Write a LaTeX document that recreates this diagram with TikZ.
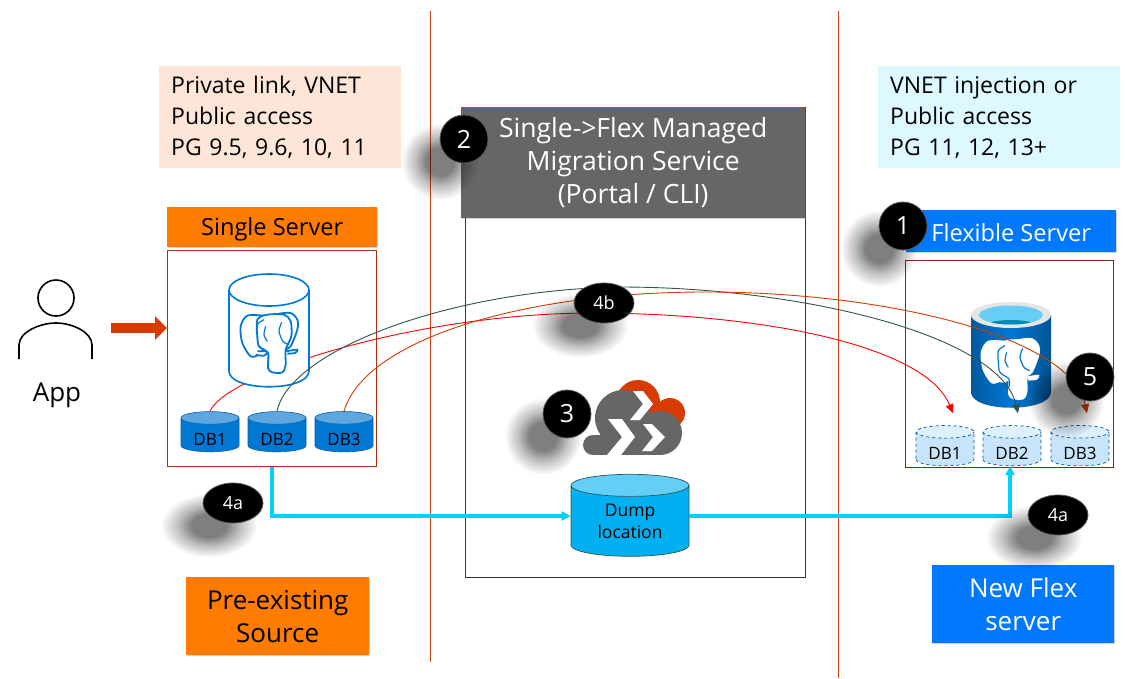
\documentclass[tikz,border=0pt]{standalone}
\usepackage{fontspec}
\setmainfont{Open Sans}
\usetikzlibrary{arrows.meta, shapes.geometric, shadows, fadings}

\definecolor{rulered}{HTML}{C8431A}
\definecolor{framered}{HTML}{A5330F}
\definecolor{pgorange}{HTML}{FF7C00}
\definecolor{flexblue}{HTML}{0078FF}
\definecolor{dbblue}{HTML}{0078D4}
\definecolor{dbtop}{HTML}{5FA6DF}
\definecolor{pglight}{HTML}{C6E5FB}
\definecolor{pglighttop}{HTML}{DDF0FD}
\definecolor{wirecyan}{HTML}{00D2F7}
\definecolor{wiredark}{HTML}{2F5450}
\definecolor{wireorange}{HTML}{D83B01}
\definecolor{dumpblue}{HTML}{00B0F0}
\definecolor{dumptop}{HTML}{63CFF7}
\definecolor{srcnotefill}{HTML}{FDE6D8}
\definecolor{flexnotefill}{HTML}{DDF8FF}

\pgfdeclareradialshading{softblobshade}{\pgfpointorigin}{color(0bp)=(white); color(9bp)=(white); color(16bp)=(gray); color(25bp)=(black); color(50bp)=(black)}
\tikzfading[name=softblob, shading=softblobshade]

\tikzset{
  pics/pgelephant/.style={code={
    \begin{scope}[x=0.3333pt, y=-0.3333pt]
    \draw[elephant line] plot[smooth] coordinates {(-15,-82) (-65,-82) (-85,-50) (-80,0) (-55,40) (-30,35) (-10,20)};
    \draw[elephant line] plot[smooth] coordinates {(30,-88) (65,-90) (85,-70) (85,-40) (65,10) (50,18)};
    \draw[elephant line] plot[smooth] coordinates {(50,25) (85,20) (78,30) (55,32)};
    \draw[elephant line] plot[smooth] coordinates {(-35,25) (-5,25) (-15,38) (-40,35)};
    \draw[elephant line] plot[smooth cycle] coordinates {(-35,-20) (-35,-70) (-5,-85) (45,-85) (65,-65) (67,-20) (50,20) (50,65) (40,88) (10,88) (-3,75) (-3,30) (-30,10)};
    \draw[elephant detail] plot[smooth] coordinates {(-15,-70) (-35,-55) (-35,-20) (-30,10) (-3,30) (-3,55)};
    \draw[elephant detail] plot[smooth] coordinates {(-10,-50) (-15,-25) (-5,-5)};
    \draw[elephant detail] plot[smooth] coordinates {(38,-62) (30,-35) (42,-5) (60,5)};
    \end{scope}
  }},
  elephant line/.style={draw=dbblue, fill=white, line width=1.8pt},
  elephant detail/.style={draw=dbblue, line width=1.2pt}
}

\begin{document}
\begin{tikzpicture}[
  x=1pt, y=-1pt,
  rulerline/.style={draw=rulered, line width=0.9pt},
  notebox/.style={anchor=north west, minimum width=242, minimum height=102, inner sep=0, text width=218, align=left, font=\fontsize{23}{31}\selectfont},
  titlebox/.style={anchor=north west, minimum width=210, minimum height=40, inner sep=0, text height=22pt, font=\fontsize{23.6}{26}\selectfont, drop shadow={shadow xshift=1pt, shadow yshift=-1pt, opacity=.35}},
  tagbox/.style={anchor=north west, minimum width=183, minimum height=78, inner sep=0, align=center, font=\fontsize{26}{33}\selectfont, drop shadow={shadow xshift=1pt, shadow yshift=-1pt, opacity=.35}},
  framebox/.style={anchor=north west, draw=framered, line width=0.8pt, fill=white, inner sep=0},
  badge/.style={ellipse, inner sep=0, minimum width=#1, minimum height=48, fill=black, draw=black!65, line width=0.8pt, text=white, font=\fontsize{25}{30}\selectfont,
    general shadow={shadow xshift=-15pt, shadow yshift=-14pt, shadow scale=1.6, fill=black, opacity=.5, path fading=softblob}},
  badge/.default=48,
  smallbadge/.style={badge=60, minimum height=40, font=\fontsize{18}{22}\selectfont},
  dbcyl/.style={cylinder, shape border rotate=90, aspect=.38, cylinder uses custom fill, inner sep=0, minimum width=58, minimum height=36, text height=21pt, font=\fontsize{17}{20}\selectfont},
  srcdb/.style={dbcyl, draw=dbblue!80!black, line width=0.6pt, cylinder body fill=dbblue, cylinder end fill=dbtop},
  newdb/.style={dbcyl, draw=dbblue!70!black, dashed, line width=0.7pt, cylinder body fill=pglight, cylinder end fill=pglighttop},
  wire/.style={line width=0.9pt, -{Triangle[length=9pt, width=8pt]}},
  cyanwire/.style={draw=wirecyan, line width=3.2pt, -{Triangle[length=9pt, width=9pt]}}
]
\useasboundingbox (0,0) rectangle (1125,678);

% separators
\coordinate (ruleAtop) at (430,11);
\coordinate (ruleAend) at (430,662);
\coordinate (ruleBtop) at (838,11);
\coordinate (ruleBend) at (838,678);
\draw[rulerline] (ruleAtop) -- (ruleAend);
\draw[rulerline] (ruleBtop) -- (ruleBend);

% top notes
\node[notebox, fill=srcnotefill] (srcnote) at (159,66) {Private link, VNET\\Public access\\PG 9.5, 9.6, 10, 11};
\node[notebox, fill=flexnotefill] (flexnote) at (878,66) {VNET injection or\\Public access\\PG 11, 12, 13+};

% middle column
\node[anchor=north west, draw=black!80, line width=0.6pt, minimum width=340, minimum height=470, inner sep=0] (svcbox) at (465,107) {};
\node[anchor=north west, fill=black!60, text=white, minimum width=344, minimum height=111, inner sep=0, align=center, font=\fontsize{26.5}{33}\selectfont, drop shadow={shadow xshift=1pt, shadow yshift=-1pt, opacity=.35}] (svctitle) at (461,107) {Single->Flex Managed\\Migration Service\\(Portal / CLI)};
\draw[rulerline] (svctitle.north west) -- (svctitle.north east);

% source side
\node[titlebox, fill=pgorange] (srctitle) at (167,207) {Single Server};
\node[framebox, minimum width=209, minimum height=216] (srcbox) at (167,250) {};
\node[srcdb] (srcdbA) at (210,435) {DB1};
\node[srcdb] (srcdbB) at (277,435) {DB2};
\node[srcdb] (srcdbC) at (344,435) {DB3};

% target side
\node[titlebox, fill=flexblue, text=white, minimum height=42, text height=20pt] (flextitle) at (906,210) {Flexible Server};
\node[framebox, minimum width=208, minimum height=207, draw=framered!80!black] (flexbox) at (905,260) {};
\node[newdb] (newdbA) at (945,449) {DB1};
\node[newdb] (newdbB) at (1012,449) {DB2};
\node[newdb] (newdbC) at (1080,449) {DB3};

% target postgres cylinder
\shade[left color=dbblue!75!black, right color=dbblue!70!black, middle color=dbblue] (971,315) -- (971,392) .. controls (971,413) and (1051,413) .. (1051,392) -- (1051,315) -- cycle;
\fill[black!10] (1011,315) ellipse [x radius=40, y radius=13];
\begin{scope}
\clip (1011,315) ellipse [x radius=32, y radius=9.5];
\fill[cyan!60] (1011,315) ellipse [x radius=32, y radius=9.5];
\fill[dbblue!60!cyan!80!black] (1011,330) ellipse [x radius=32, y radius=10];
\end{scope}
\pic[elephant line/.style={draw=white, fill=white, line width=1.8pt}] at (1010,369) {pgelephant};

% first curve sits under the source cylinder
\draw[wire, draw=red] (srcdbA.north) .. controls (225,375) and (410,314) .. (590,313) .. controls (760,313) and (925,345) .. ([shift={(8pt,12pt)}]newdbA.north);

% source postgres cylinder
\draw[draw=dbblue, fill=white, line width=1.6pt] (229,290) -- (229,371) .. controls (229,392) and (309,392) .. (309,371) -- (309,290);
\draw[draw=dbblue, fill=white, line width=1.6pt] (269,290) ellipse [x radius=40, y radius=16];
\pic at (269,343) {pgelephant};

\draw[wire, draw=wiredark] (srcdbB.north) .. controls (290,350) and (450,290) .. (620,287) .. controls (800,287) and (1000,335) .. ([shift={(6pt,12pt)}]newdbB.north);
\draw[wire, draw=wireorange] (srcdbC.north) .. controls (365,340) and (520,293) .. (700,292) .. controls (880,291) and (1070,335) .. ([shift={(7pt,12pt)}]newdbC.north);

% cloud icon
\fill[wireorange] (638,402) circle (22);
\fill[wireorange] (670,413) circle (15);
\fill[black!60] (593,445) circle (10);
\fill[black!60] (623,418) circle (28);
\fill[black!60] (660,433) circle (22);
\fill[black!60] (593,435) rectangle (660,455);
\fill[black!60] (600,418) rectangle (660,455);
\fill[white] (633,391) -- (643,391) -- (653,404) -- (640,420) -- (630,420) -- (643,404) -- cycle;
\fill[white] (608,419) -- (622,419) -- (635,437) -- (621,455) -- (607,455) -- (622,437) -- cycle;
\fill[white] (643,424) -- (652,424) -- (665,437) -- (652,451) -- (642,451) -- (653,437) -- cycle;

% dump cylinder and cyan links
\node[cylinder, shape border rotate=90, aspect=.34, cylinder uses custom fill, cylinder body fill=dumpblue, cylinder end fill=dumptop, draw=wiredark, line width=0.7pt, inner sep=0, minimum width=118, minimum height=82, align=center, font=\fontsize{17.5}{22}\selectfont] (dumploc) at (630,521) {Dump\\location};
\draw[cyanwire] (srcbox.south) |- ([yshift=5pt]dumploc.west);
\draw[cyanwire] ([yshift=5pt]dumploc.east) -| ([xshift=-2pt]newdbB.south);

% app
\node[circle, draw=black, line width=1.6pt, minimum size=36, inner sep=0] (apphead) at (56,298) {};
\draw[black, line width=1.6pt] (19,359) -- (19,345) .. controls (19,332) and (40,323) .. (56,323) .. controls (72,323) and (92,332) .. (92,345) -- (92,359);
\node[font=\fontsize{26}{30}\selectfont] (applabel) at (57,395) {App};
\coordinate (appout) at (111,328);
\draw[wireorange, line width=10pt, -{Triangle[length=12pt, width=23pt]}] (appout) -- (srcbox.west |- appout);

% bottom tags
\node[tagbox, fill=pgorange] (srctag) at (186,577) {Pre-existing\\Source};
\node[tagbox, fill=flexblue, text=white, minimum width=182] (flextag) at (932,565) {New Flex\\server};

% numbered badges
\node[badge] (stepone) at (903,226) {1};
\node[badge] (steptwo) at (464,139) {2};
\node[badge] (stepthree) at (567,414) {3};
\node[badge] (stepfive) at (1090,377) {5};
\node[smallbadge] (stepfourb) at (604,303) {4b};
\node[smallbadge] (stepfourl) at (233,503) {4a};
\node[smallbadge] (stepfourr) at (1058,515) {4a};
\end{tikzpicture}
\end{document}
